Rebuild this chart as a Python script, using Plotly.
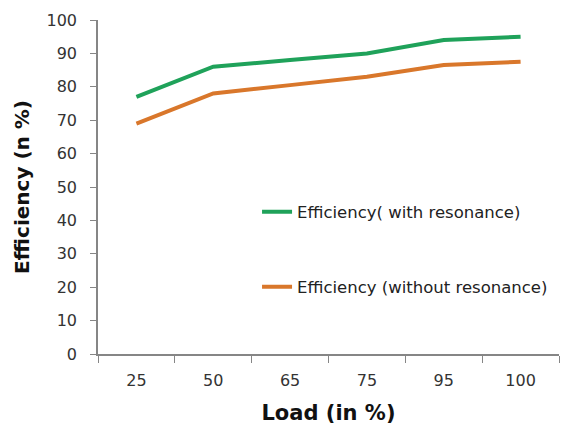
import plotly.graph_objects as go

loads = ["25", "50", "65", "75", "95", "100"]
eff_with = [77, 86, 88, 90, 94, 95]
eff_without = [69, 78, 80.5, 83, 86.5, 87.5]
y_ticks = [0, 10, 20, 30, 40, 50, 60, 70, 80, 90, 100]

GREEN = "#1fa25a"
ORANGE = "#d9772b"
AXIS = "#868686"
FONT = "DejaVu Sans, sans-serif"

fig = go.Figure()
fig.add_trace(go.Scatter(x=loads, y=eff_with, mode="lines", name="Efficiency( with resonance)",
                         line=dict(color=GREEN, width=4), legend="legend", showlegend=True))
fig.add_trace(go.Scatter(x=loads, y=eff_without, mode="lines", name="Efficiency (without resonance)",
                         line=dict(color=ORANGE, width=4), legend="legend2", showlegend=True))

legend_common = dict(font=dict(family=FONT, size=16.5, color="#222"), bgcolor="rgba(0,0,0,0)",
                     xanchor="left", yanchor="middle")

fig.update_layout(
    width=561, height=433,
    margin=dict(l=98, r=2, t=20, b=79),
    paper_bgcolor="white", plot_bgcolor="white",
    font=dict(family=FONT, size=16, color="#333"),
    showlegend=True,
    legend=dict(x=0.345, y=1 - (212 - 20) / 334, **legend_common),
    legend2=dict(x=0.345, y=1 - (287 - 20) / 334, **legend_common),
    xaxis=dict(type="category", range=[-0.5, 5.5], showline=True, linecolor=AXIS, linewidth=1.5,
               ticks="outside", tickson="boundaries", ticklen=7, tickcolor=AXIS,
               showgrid=False, zeroline=False, tickfont=dict(size=16, color="#333"),
               ticklabelstandoff=11,
               title=dict(text="<b>Load (in %)</b>", font=dict(size=21, color="#111"), standoff=16)),
    yaxis=dict(range=[0, 100], tickvals=y_ticks, showline=True, linecolor=AXIS, linewidth=1.5,
               ticks="outside", ticklen=6, tickcolor=AXIS, showgrid=False, zeroline=False,
               tickfont=dict(size=16, color="#333"), ticklabelstandoff=10,
               title=dict(text="<b>Efficiency (n %)</b>", font=dict(size=20, color="#111"), standoff=12)),
)

fig.write_html("out.html")
